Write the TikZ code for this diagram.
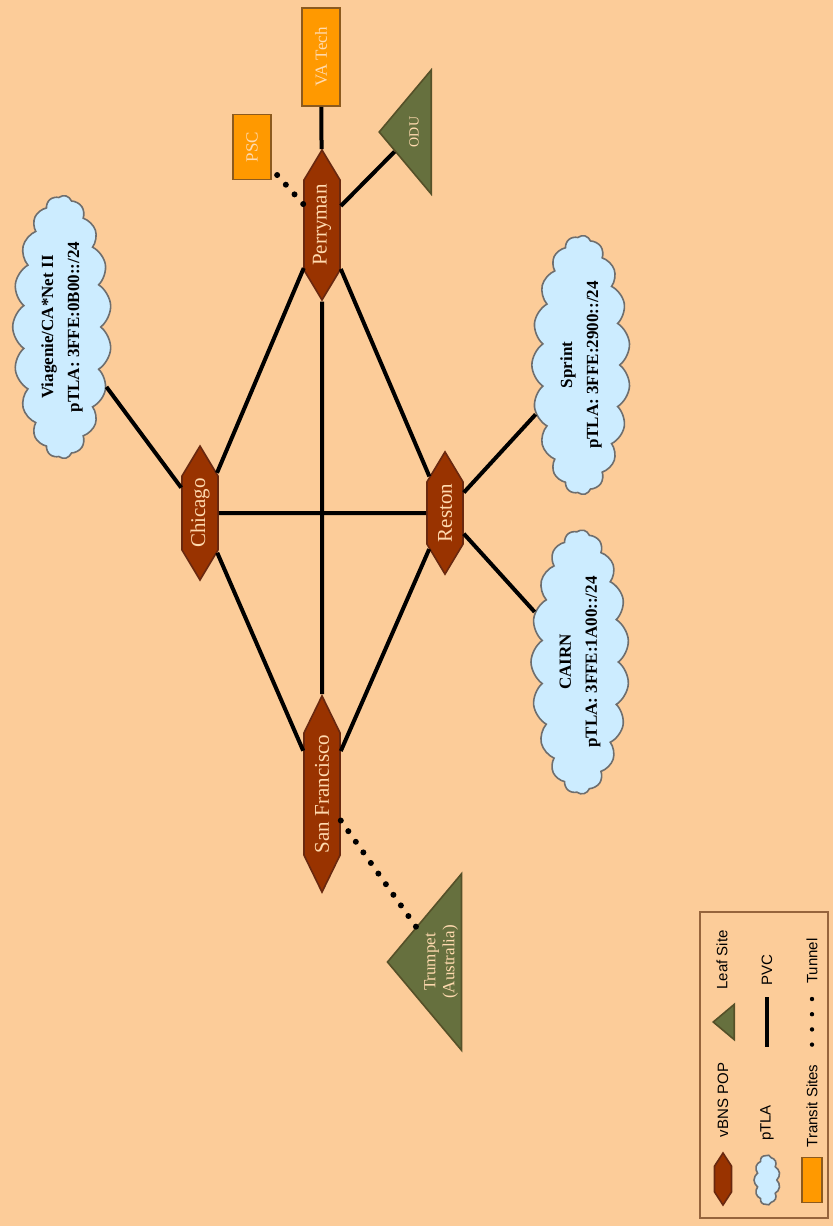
\documentclass[tikz,border=0pt]{standalone}
\usepackage{fontspec}
\setmainfont{Liberation Serif}
\setsansfont{Liberation Sans}
\usepackage{tikz}
\usetikzlibrary{shapes.geometric, shapes.symbols, positioning}

\definecolor{peach}{RGB}{252,204,153}
\definecolor{popfill}{RGB}{153,51,0}
\definecolor{popline}{RGB}{105,40,15}
\definecolor{poptext}{RGB}{255,218,175}
\definecolor{cloudfill}{RGB}{204,236,255}
\definecolor{cloudline}{RGB}{110,110,110}
\definecolor{leaffill}{RGB}{102,112,62}
\definecolor{leafline}{RGB}{85,80,40}
\definecolor{transitfill}{RGB}{255,153,0}
\definecolor{transitline}{RGB}{140,90,30}
\definecolor{keyline}{RGB}{150,100,60}

\begin{document}
\begin{tikzpicture}[x=0.5pt, y=-0.5pt,
    pop/.style={signal, signal to=east and west, signal pointer angle=62, draw=popline, fill=popfill, line width=0.8pt, rotate=90, text=poptext, font=\fontsize{10.5}{12}\selectfont, minimum height=18pt, inner sep=1pt},
    ptla/.style={cloud, cloud puffs=19, cloud puff arc=110, cloud ignores aspect, draw=cloudline, fill=cloudfill, line width=0.8pt, rotate=90, align=center, font=\bfseries\fontsize{8.5}{13}\selectfont},
    leaf/.style={isosceles triangle, isosceles triangle apex angle=100, shape border rotate=90, draw=leafline, fill=leaffill, line width=0.8pt, rotate=90, align=center, text=poptext, inner sep=1pt},
    transit/.style={rectangle, draw=transitline, fill=transitfill, line width=0.8pt, rotate=90, text=poptext, font=\fontsize{8.5}{10}\selectfont, minimum height=19pt},
    pvc/.style={line width=2pt},
    tunnel/.style={line width=3pt, line cap=round, dash pattern=on 0pt off 6.5pt},
    keytext/.style={rotate=90, font=\sffamily\fontsize{7.5}{9}\selectfont}
]

% Background
\fill[peach] (0,0) rectangle (833,1226);
\useasboundingbox (0,0) rectangle (833,1226);

% vBNS POPs
\node[pop, minimum width=58.5pt] (chicago) at (200,513) {Chicago};
\node[pop, minimum width=58.5pt] (reston) at (445,513) {Reston};
\node[pop, minimum width=75pt] (perryman) at (322,225) {Perryman};
\node[pop, minimum width=93.5pt, signal pointer angle=52] (sanfrancisco) at (322,794) {San Francisco};

% pTLAs
\node[ptla, minimum width=103pt, minimum height=48pt] (viagenie) at (62,327) {Viagenie/CA*Net II\\pTLA: 3FFE:0B00::/24};
\node[ptla, minimum width=113pt, minimum height=47pt] (sprint) at (581,365) {Sprint\\pTLA: 3FFE:2900::/24};
\node[ptla, minimum width=111pt, minimum height=48pt] (cairn) at (580,662) {CAIRN\\pTLA: 3FFE:1A00::/24};

% Leaf sites
\node[leaf, font=\fontsize{7}{8}\selectfont, minimum height=26pt] (odu) at (414,132) {ODU};
\node[leaf, font=\fontsize{8.5}{9.5}\selectfont, minimum height=37pt] (trumpet) at (441,962) {Trumpet\\(Australia)};

% Transit sites
\node[transit, minimum width=49pt] (vatech) at (321,57) {VA Tech};
\node[transit, minimum width=32.5pt] (psc) at (252,147) {PSC};

% PVCs
\draw[pvc] (chicago) -- (reston);
\draw[pvc] (perryman) -- (sanfrancisco);
\draw[pvc] (chicago) -- (perryman);
\draw[pvc] (reston) -- (perryman);
\draw[pvc] (chicago) -- (sanfrancisco);
\draw[pvc] (reston) -- (sanfrancisco);
\draw[pvc] (chicago) -- (viagenie);
\draw[pvc] (reston) -- (sprint);
\draw[pvc] (reston) -- (cairn);
\draw[pvc] (perryman) -- (vatech);
\draw[pvc] (perryman) -- (odu);

% Tunnels
\draw[tunnel] (perryman) -- (psc);
\draw[tunnel] (sanfrancisco) -- (trumpet);

% Legend
\node[draw=keyline, line width=1.2pt, rotate=90, minimum width=153pt, minimum height=64pt] (legend) at (764,1065) {};
\node[pop, minimum width=26pt, minimum height=8.5pt, signal pointer angle=66, inner sep=0pt] (keypop) at (723,1179) {};
\node[keytext] (keypoptext) at (723,1100) {vBNS POP};
\node[leaf, isosceles triangle apex angle=80, minimum height=10.5pt, inner sep=0pt] (keyleaf) at (726,1022) {};
\node[keytext] (keyleaftext) at (722,960) {Leaf Site};
\node[ptla, cloud puffs=11, minimum width=25pt, minimum height=13pt, inner sep=0pt] (keyptla) at (767,1180) {};
\node[keytext] (keyptlatext) at (767,1123) {pTLA};
\coordinate (keypvcA) at (767,997);
\coordinate (keypvcB) at (767,1047);
\draw[pvc, line width=2.3pt] (keypvcA) -- (keypvcB);
\node[keytext] (keypvctext) at (767,970) {PVC};
\node[transit, minimum width=22.5pt, minimum height=10pt, inner sep=0pt] (keytransit) at (812,1180) {};
\node[keytext] (keytransittext) at (812,1106) {Transit Sites};
\coordinate (keytunnelA) at (812,999);
\coordinate (keytunnelB) at (812,1046);
\draw[tunnel, dash pattern=on 0pt off 7.6pt, line width=2.2pt] (keytunnelA) -- (keytunnelB);
\node[keytext] (keytunneltext) at (812,961) {Tunnel};

\end{tikzpicture}
\end{document}
